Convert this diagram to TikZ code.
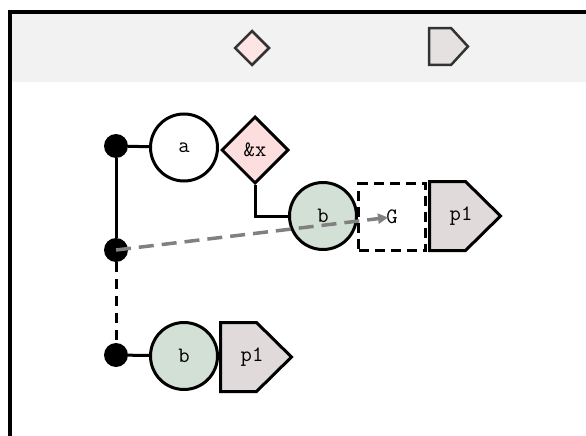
\documentclass[tikz,border=0pt]{standalone}
\usepackage{fontspec}
\usetikzlibrary{shapes.geometric,arrows.meta}
\definecolor{hdrgrey}{HTML}{F2F2F2}
\definecolor{pinkfill}{HTML}{FDDEDE}
\definecolor{greenfill}{HTML}{D3E0D5}
\definecolor{pentfill}{HTML}{E0DADA}
\definecolor{dkstroke}{HTML}{333333}
\tikzset{
  lbl/.style={font=\ttfamily\fontsize{22}{24}\selectfont},
  circ/.style={circle, draw=black, line width=3pt, minimum size=67pt, inner sep=0pt, lbl},
  dia/.style={diamond, draw=black, line width=3pt, fill=pinkfill, minimum width=67pt, minimum height=67pt, inner sep=0pt, lbl},
  pentbox/.style={rectangle, minimum width=71pt, minimum height=69pt, inner sep=0pt, lbl},
  pentline/.style={draw=black, line width=3pt, fill=pentfill, line join=miter},
  dot/.style={circle, fill=black, minimum size=24pt, inner sep=0pt},
  gbox/.style={rectangle, draw=black, line width=3pt, dash pattern=on 10pt off 6pt, minimum size=67pt, inner sep=0pt, lbl},
  wire/.style={line width=3pt, draw=black},
  dwire/.style={line width=3pt, draw=black, dash pattern=on 10pt off 7pt},
  garrow/.style={line width=3.5pt, draw=gray, dash pattern=on 15pt off 8pt, -{Triangle[length=10pt,width=10pt]}},
}
\begin{document}
\begin{tikzpicture}[x=1pt,y=-1pt]
\useasboundingbox (0,0) rectangle (586,436);
\clip (0,0) rectangle (586,436);
% frame and header
\fill[hdrgrey] (10,12) rectangle (600,82);
\draw[line width=4pt] (10,12) rectangle (600,450);
% header legend
\node[diamond, draw=dkstroke, line width=2.5pt, fill=pinkfill!80!white, minimum width=35pt, minimum height=35pt, inner sep=0pt] (hdia) at (252,48) {};
\node[rectangle, minimum width=38.5pt, minimum height=36.5pt, inner sep=0pt] (hpent) at (448.5,46.5) {};
\draw[draw=dkstroke, line width=2.5pt, fill=pentfill!80!white] (hpent.north west) -- ++(22,0) -- (hpent.east) -- ([xshift=22pt]hpent.south west) -- (hpent.south west) -- cycle;
% dots
\node[dot] (d1) at (116,146) {};
\node[dot] (d2) at (116,250) {};
\node[dot] (d3) at (116,355) {};
% row 1
\node[circ, fill=white] (a) at (184,147.5) {a};
\node[dia] (x) at (255,150) {\&x};
% row 2
\node[circ, fill=greenfill] (b1) at (323,216) {b};
\node[gbox] (G) at (392,217) {G};
\path (465,216) coordinate (p1ac);
\draw[pentline] ([shift={(-35.5,-34.5)}]p1ac) -- ++(36,0) -- ([xshift=35.5pt]p1ac) -- ([shift={(0.5,34.5)}]p1ac) -- ([shift={(-35.5,34.5)}]p1ac) -- cycle;
\node[pentbox] (p1a) at ([xshift=-4pt]p1ac) {p1};
% row 3
\node[circ, fill=greenfill] (b2) at (184,356) {b};
\path (256,357) coordinate (p1bc);
\draw[pentline] ([shift={(-35.5,-34.5)}]p1bc) -- ++(36,0) -- ([xshift=35.5pt]p1bc) -- ([shift={(0.5,34.5)}]p1bc) -- ([shift={(-35.5,34.5)}]p1bc) -- cycle;
\node[pentbox] (p1b) at ([xshift=-4pt]p1bc) {p1};
% connectors
\draw[wire] (d1) -- (a);
\draw[wire] (d1) -- (d2);
\draw[dwire] (d2) -- (d3);
\draw[wire] (d3) -- (b2);
\draw[wire] (x.south) |- (b1.west);
\draw[garrow, shorten >=4pt] (d2.center) -- (G.center);
\end{tikzpicture}
\end{document}
